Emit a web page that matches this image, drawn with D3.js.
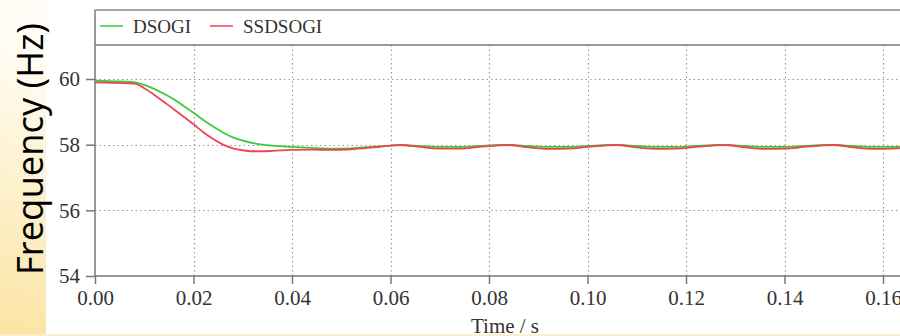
<!DOCTYPE html>
<html>
<head>
<meta charset="utf-8">
<script src="https://cdn.jsdelivr.net/npm/d3@7"></script>
<style>
  html, body { margin: 0; padding: 0; }
  svg { display: block; }
</style>
</head>
<body>
<div id="chart"></div>
<script>
// time axis samples (s)
const time = [0, 0.004, 0.008, 0.010, 0.012, 0.014, 0.016, 0.018, 0.020, 0.022, 0.024, 0.026, 0.028, 0.030,
  0.032, 0.034, 0.036, 0.040, 0.044, 0.048, 0.052, 0.056, 0.060, 0.062, 0.066, 0.070, 0.074, 0.078, 0.082,
  0.084, 0.088, 0.092, 0.096, 0.100, 0.104, 0.106, 0.110, 0.114, 0.118, 0.122, 0.126, 0.128, 0.132, 0.136,
  0.140, 0.144, 0.148, 0.150, 0.154, 0.158, 0.162, 0.164];
const dsogi = [59.95, 59.93, 59.90, 59.82, 59.70, 59.55, 59.38, 59.18, 58.97, 58.75, 58.55, 58.37, 58.22, 58.12,
  58.05, 58.00, 57.97, 57.93, 57.90, 57.88, 57.89, 57.93, 57.97, 57.99, 57.96, 57.93, 57.93, 57.96, 57.99,
  57.99, 57.96, 57.93, 57.93, 57.96, 57.99, 57.99, 57.96, 57.93, 57.93, 57.96, 57.99, 57.99, 57.96, 57.93,
  57.93, 57.96, 57.99, 57.99, 57.96, 57.93, 57.93, 57.94];
const ssdsogi = [59.90, 59.88, 59.86, 59.72, 59.52, 59.30, 59.08, 58.85, 58.62, 58.38, 58.17, 58.00, 57.89, 57.83,
  57.80, 57.80, 57.81, 57.84, 57.85, 57.84, 57.86, 57.91, 57.97, 57.99, 57.93, 57.88, 57.88, 57.93, 57.98,
  57.99, 57.92, 57.87, 57.88, 57.93, 57.98, 57.99, 57.92, 57.87, 57.88, 57.93, 57.98, 57.99, 57.92, 57.87,
  57.88, 57.93, 57.98, 57.99, 57.92, 57.87, 57.88, 57.90];
const xTicks = [0, 0.02, 0.04, 0.06, 0.08, 0.10, 0.12, 0.14, 0.16];
const yTicks = [54, 56, 58, 60];
const seriesNames = ['DSOGI', 'SSDSOGI'];
const seriesColors = ['#3ec93a', '#f0434f'];

const width = 900, height = 336;
const plotL = 95, plotR = 900, plotT = 45, plotB = 276;

const svg = d3.select('#chart').append('svg')
  .attr('width', width).attr('height', height);

// slide background
const defs = svg.append('defs');
const grad = defs.append('linearGradient')
  .attr('id', 'bg').attr('x1', '1').attr('y1', '0').attr('x2', '0').attr('y2', '1');
grad.append('stop').attr('offset', '0.55').attr('stop-color', '#fffdf6');
grad.append('stop').attr('offset', '1').attr('stop-color', '#fbe4a2');
svg.append('rect').attr('width', width).attr('height', height).attr('fill', 'url(#bg)');
svg.append('rect').attr('x', 46).attr('y', 0).attr('width', width - 46).attr('height', 334).attr('fill', '#fff');

defs.append('clipPath').attr('id', 'clip')
  .append('rect').attr('x', plotL).attr('y', plotT).attr('width', plotR - plotL).attr('height', plotB - plotT);

const x = d3.scaleLinear().domain([0, 0.16]).range([plotL, 883]);
const y = d3.scaleLinear().domain([54, 60]).range([plotB, 79]);

// grid
const grid = svg.append('g').attr('stroke', '#999').attr('stroke-width', 1.2)
  .attr('stroke-dasharray', '1.5,3');
grid.selectAll('.gx').data(xTicks.slice(1)).enter().append('line')
  .attr('x1', d => Math.round(x(d)) + 0.5).attr('x2', d => Math.round(x(d)) + 0.5)
  .attr('y1', plotT).attr('y2', plotB);
grid.selectAll('.gy').data(yTicks.slice(1)).enter().append('line')
  .attr('x1', plotL).attr('x2', plotR)
  .attr('y1', d => Math.round(y(d)) + 0.5).attr('y2', d => Math.round(y(d)) + 0.5);

// axes
const fontSerif = '"Liberation Serif", "DejaVu Serif", serif';
const xAxis = svg.append('g').attr('transform', `translate(0,${plotB})`)
  .call(d3.axisBottom(x).tickValues(xTicks).tickFormat(d3.format('.2f')).tickSize(8).tickPadding(6));
const yAxis = svg.append('g').attr('transform', `translate(${plotL},0)`)
  .call(d3.axisLeft(y).tickValues(yTicks).tickFormat(d3.format('d')).tickSize(9).tickPadding(6));
[xAxis, yAxis].forEach(a => {
  a.select('.domain').remove();
  a.selectAll('line').attr('stroke', '#777').attr('stroke-width', 1.5);
  a.selectAll('text').attr('font-family', fontSerif).attr('font-size', 21).attr('fill', '#333');
});
svg.append('line').attr('x1', plotL).attr('x2', plotR).attr('y1', plotB).attr('y2', plotB)
  .attr('stroke', '#777').attr('stroke-width', 1.5);
svg.append('line').attr('x1', plotL).attr('x2', plotL).attr('y1', 10).attr('y2', plotB)
  .attr('stroke', '#777').attr('stroke-width', 1.5);

// legend frame
svg.append('line').attr('x1', plotL).attr('x2', plotR).attr('y1', 10).attr('y2', 10)
  .attr('stroke', '#888').attr('stroke-width', 1.5);
svg.append('line').attr('x1', plotL).attr('x2', plotR).attr('y1', plotT).attr('y2', plotT)
  .attr('stroke', '#777').attr('stroke-width', 1.5);

const legendX = [100, 210];
seriesNames.forEach((name, i) => {
  svg.append('line').attr('x1', legendX[i]).attr('x2', legendX[i] + 23).attr('y1', 26).attr('y2', 26)
    .attr('stroke', seriesColors[i]).attr('stroke-width', 1.5);
  svg.append('text').attr('x', legendX[i] + 33).attr('y', 33).text(name)
    .attr('font-family', fontSerif).attr('font-size', 19).attr('fill', '#333');
});

// series
const line = d3.line().x(d => x(d[0])).y(d => y(d[1])).curve(d3.curveMonotoneX);
const plot = svg.append('g').attr('clip-path', 'url(#clip)');
[dsogi, ssdsogi].forEach((vals, i) => {
  plot.append('path').datum(time.map((t, j) => [t, vals[j]]))
    .attr('d', line).attr('fill', 'none')
    .attr('stroke', seriesColors[i]).attr('stroke-width', 1.8);
});

// axis titles
svg.append('text').attr('x', 505).attr('y', 333).attr('text-anchor', 'middle')
  .attr('font-family', fontSerif).attr('font-size', 21).attr('fill', '#333').text('Time / s');
svg.append('rect').attr('x', 0).attr('y', 334).attr('width', width).attr('height', 2).attr('fill', '#fcf0cc');

svg.append('text').attr('transform', 'translate(43,275) rotate(-90)')
  .attr('font-family', '"Open Sans", "Noto Sans", sans-serif').attr('font-size', 36).attr('fill', '#000')
  .attr('textLength', 252).attr('lengthAdjust', 'spacingAndGlyphs')
  .text('Frequency (Hz)');
</script>
</body>
</html>
